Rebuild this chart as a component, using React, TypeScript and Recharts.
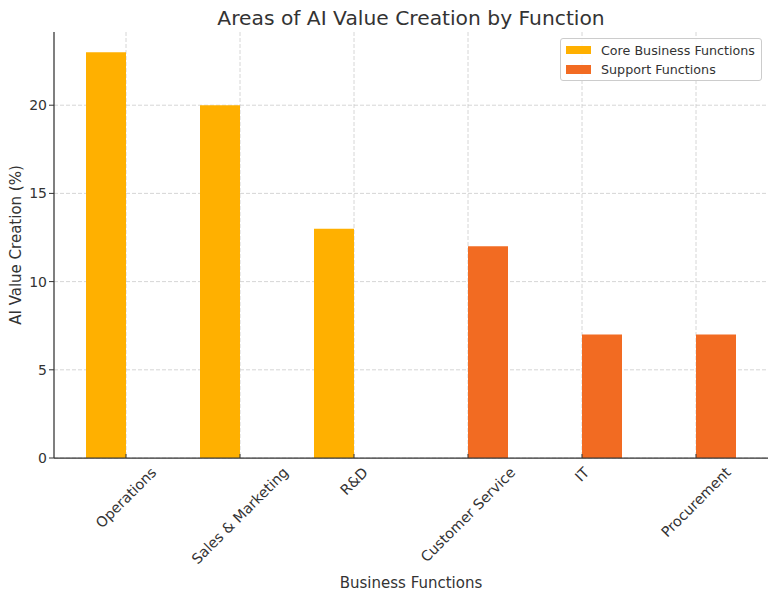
import React from 'react';
import { BarChart, Bar, XAxis, YAxis, CartesianGrid, Legend, Label } from 'recharts';

const categories = ['Operations', 'Sales & Marketing', 'R&D', 'Customer Service', 'IT', 'Procurement'];
const coreValues: (number | null)[] = [23, 20, 13, null, null, null];
const supportValues: (number | null)[] = [null, null, null, 12, 7, 7];
const yTicks = [0, 5, 10, 15, 20];
const seriesNames = ['Core Business Functions', 'Support Functions'];

const CORE = '#FFB000';
const SUPPORT = '#F26B22';
const TEXT = '#333333';
const FONT = '"DejaVu Sans", sans-serif';

const data = categories.map((name, i) => ({ name, core: coreValues[i], support: supportValues[i] }));

let ctx: CanvasRenderingContext2D | null = null;
const measure = (text: string, fs: number) => {
  if (!ctx) ctx = document.createElement('canvas').getContext('2d');
  if (!ctx) return text.length * fs * 0.6;
  ctx.font = `${fs}px "DejaVu Sans"`;
  return ctx.measureText(text).width;
};

const XTick = (props: any) => {
  const { x, y, payload } = props;
  const fs = 14.3;
  const label = String(payload.value);
  const w = measure(label, fs);
  const H = (w + 1.164 * fs) * Math.SQRT1_2;
  const cy = y + 6 + H / 2;
  return (
    <g>
      <line x1={x} x2={x} y1={y} y2={y - 4} stroke={TEXT} strokeWidth={1} />
      <text
        x={x}
        y={cy}
        dy={0.346 * fs}
        textAnchor="middle"
        transform={`rotate(-45, ${x}, ${cy})`}
        fontSize={fs}
        fill={TEXT}
        fontFamily={FONT}
      >
        {label}
      </text>
    </g>
  );
};

const LegendBox = () => {
  const colors = [CORE, SUPPORT];
  return (
    <div
      style={{
        position: 'relative',
        boxSizing: 'border-box',
        width: 202,
        height: 43,
        border: '1px solid #cccccc',
        borderRadius: 3,
        background: 'rgba(255,255,255,0.85)',
        fontFamily: FONT,
        fontSize: 12.7,
        color: TEXT,
      }}
    >
      {seriesNames.map((n, i) => (
        <React.Fragment key={n}>
          <div
            style={{
              position: 'absolute',
              left: 5,
              top: 6.7 + i * 19.3,
              width: 25,
              height: 8.7,
              background: colors[i],
            }}
          />
          <div
            style={{
              position: 'absolute',
              left: 40,
              top: 4.1 + i * 19.3,
              lineHeight: '15px',
              whiteSpace: 'nowrap',
            }}
          >
            {n}
          </div>
        </React.Fragment>
      ))}
    </div>
  );
};

export default function App() {
  return (
    <div style={{ position: 'absolute', left: 0, top: 0, width: 777, height: 601, background: '#fff' }}>
      <div
        style={{
          position: 'absolute',
          left: 54,
          top: 6,
          width: 714,
          textAlign: 'center',
          fontFamily: FONT,
          fontSize: 20.25,
          lineHeight: '24px',
          color: TEXT,
          whiteSpace: 'nowrap',
        }}
      >
        Areas of AI Value Creation by Function
      </div>
      <BarChart
        width={777}
        height={601}
        data={data}
        margin={{ top: 32, right: 9, bottom: 0, left: 0 }}
        barGap={0}
      >
        <CartesianGrid stroke="#cccccc" strokeDasharray="4 2" strokeWidth={0.8} syncWithTicks />
        <XAxis
          dataKey="name"
          type="category"
          padding={{ left: 15, right: 15 }}
          interval={0}
          tickSize={0}
          tickMargin={0}
          tickLine={false}
          tick={<XTick />}
          height={143}
          axisLine={{ stroke: TEXT, strokeWidth: 1.25 }}
        >
          <Label
            content={(p: any) => {
              const vb = p.viewBox || { x: 54, y: 458, width: 714, height: 143 };
              return (
                <text
                  x={vb.x + vb.width / 2}
                  y={vb.y + vb.height - 13}
                  textAnchor="middle"
                  fontSize={15}
                  fill={TEXT}
                  fontFamily={FONT}
                >
                  Business Functions
                </text>
              );
            }}
          />
        </XAxis>
        <YAxis
          type="number"
          domain={[0, 24.15]}
          ticks={yTicks}
          width={54}
          tickSize={5}
          tickMargin={2}
          tick={{ fontSize: 14, fill: TEXT, fontFamily: FONT }}
          tickLine={{ stroke: TEXT, strokeWidth: 1 }}
          axisLine={{ stroke: TEXT, strokeWidth: 1.25 }}
        >
          <Label
            content={(p: any) => {
              const vb = p.viewBox || { x: 0, y: 32, width: 54, height: 426 };
              const cx = 16;
              const cy = vb.y + vb.height / 2;
              return (
                <text
                  x={cx}
                  y={cy}
                  dy="0.35em"
                  textAnchor="middle"
                  transform={`rotate(-90, ${cx}, ${cy})`}
                  fontSize={15}
                  fill={TEXT}
                  fontFamily={FONT}
                >
                  AI Value Creation (%)
                </text>
              );
            }}
          />
        </YAxis>
        <Bar dataKey="core" name={seriesNames[0]} fill={CORE} barSize={40} isAnimationActive={false} />
        <Bar dataKey="support" name={seriesNames[1]} fill={SUPPORT} barSize={40} isAnimationActive={false} />
        <Legend
          layout="vertical"
          align="center"
          verticalAlign="middle"
          wrapperStyle={{ top: 38, left: 560, width: 202, height: 43 }}
          content={() => <LegendBox />}
        />
      </BarChart>
    </div>
  );
}
